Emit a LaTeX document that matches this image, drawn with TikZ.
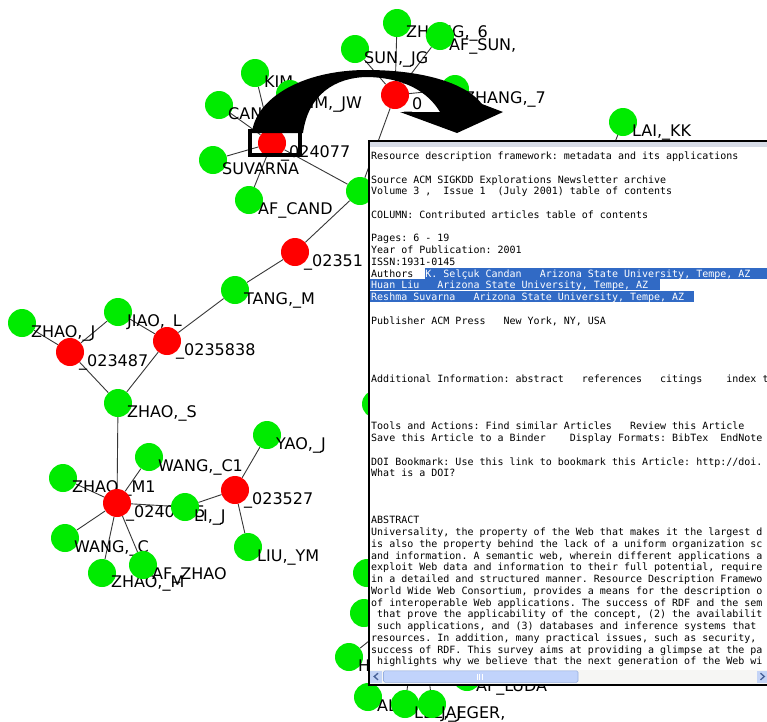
\documentclass[tikz,border=0pt]{standalone}
\usepackage{fontspec}
\newfontfamily\lblfont{DejaVu Sans}
\newfontfamily\pfont{DejaVu Sans Mono}
\frenchspacing
\pgfdeclarelayer{back}\pgfdeclarelayer{edges}
\pgfsetlayers{back,edges,main}
\definecolor{ngreen}{RGB}{0,235,0}
\definecolor{nred}{RGB}{255,0,0}
\definecolor{hl}{RGB}{49,106,197}
\definecolor{edgecol}{RGB}{55,55,55}
\definecolor{chrome}{RGB}{214,219,230}
\definecolor{sbtrack}{RGB}{246,246,244}
\definecolor{sbbtn}{RGB}{196,212,246}
\definecolor{sbthumb}{RGB}{193,211,251}
\definecolor{sbborder}{RGB}{150,175,225}
\definecolor{sbarrow}{RGB}{70,95,150}
\newcommand\gnd[4]{\node[#3] (#1) at (#2) {}; \node[lbl] at ([shift={(9,14.5)}]#1.center) {#4};}
\newcommand\pline[2]{\node[ptext] at (371,{159.5+11.75*#1}) {#2};}
\begin{document}
\begin{tikzpicture}[x=1pt,y=-1pt,
  gn/.style={circle,fill=ngreen,minimum size=28pt,inner sep=0pt},
  rn/.style={circle,fill=nred,minimum size=28pt,inner sep=0pt},
  lbl/.style={anchor=base west,inner sep=0pt,font=\lblfont\fontsize{16}{16}\selectfont},
  edge/.style={draw=edgecol,line width=0.9pt},
  ptext/.style={anchor=base west,inner sep=0pt,font=\pfont\fontsize{10}{11.75}\selectfont},
  wtext/.style={ptext,text=white},
]
\useasboundingbox (0,0) rectangle (767,721);
\begin{pgfonlayer}{back}
\fill[white] (0,0) rectangle (767,721);
\end{pgfonlayer}

% ---- graph nodes (drawn in order) ----
\gnd{zhang6}{397,23}{gn}{ZHANG,\_6}
\gnd{sunjg}{355,49}{gn}{SUN,\_JG}
\gnd{afsun}{440,36}{gn}{AF\_SUN,}
\gnd{zhang7}{455,89}{gn}{ZHANG,\_7}
\gnd{rtop}{395,95}{rn}{\_0}
\gnd{kim}{255,73}{gn}{KIM}
\gnd{kimjw}{290,94}{gn}{KIM,\_JW}
\gnd{cand}{219,105}{gn}{CAN}
\gnd{suvarna}{213,160}{gn}{SUVARNA}
\gnd{afcand}{249,200}{gn}{AF\_CAND}
\gnd{ra}{272,143}{rn}{\_024077}
\node[gn] (gmid) at (360,191) {};
\gnd{rb}{295,252}{rn}{\_02351}
\gnd{tang}{235,290}{gn}{TANG,\_M}
\gnd{jiao}{118,312}{gn}{JIAO,\_L}
\gnd{zhaoj}{22,323}{gn}{ZHAO,\_J}
\gnd{rc}{70,352}{rn}{\_023487}
\gnd{rd}{167,341}{rn}{\_0235838}
\gnd{zhaos}{118,403}{gn}{ZHAO,\_S}
\gnd{wangc1}{149,457}{gn}{WANG,\_C1}
\gnd{zhaom1}{63,478}{gn}{ZHAO,\_M1}
\gnd{wangc}{65,538}{gn}{WANG,\_C}
\gnd{zhaom}{102,573}{gn}{ZHAO,\_M}
\gnd{afzhao}{143,565}{gn}{AF\_ZHAO}
\gnd{re}{117,503}{rn}{\_0240085}
\gnd{lij}{185,507}{gn}{LI,\_J}
\gnd{rf}{235,490}{rn}{\_023527}
\gnd{yaoj}{267,435}{gn}{YAO,\_J}
\gnd{liuym}{248,547}{gn}{LIU,\_YM}
\gnd{lai}{623,122}{gn}{LAI,\_KK}
\node[gn] (gp1) at (376,404) {};
\node[gn] (gp2) at (367,573) {};
\node[gn] (gp3) at (364,613) {};
\gnd{gh}{349,657}{gn}{H}
\gnd{al}{368,697}{gn}{AL}
\gnd{lee}{405,704}{gn}{LEE,\_J}
\gnd{jaeger}{432,704}{gn}{JAEGER,}
\gnd{afluda}{467,677}{gn}{AF\_LUDA}
\coordinate (hubA) at (420,600);
\coordinate (hubB) at (560,280);

% ---- edges ----
\begin{pgfonlayer}{edges}
\foreach \n in {sunjg,zhang6,afsun,zhang7,gmid} \draw[edge] (rtop) -- (\n);
\foreach \n in {kim,kimjw,cand,suvarna,afcand,gmid} \draw[edge] (ra) -- (\n);
\draw[edge] (gmid) -- (rb);
\draw[edge] (rb) -- (tang);
\draw[edge] (tang) -- (rd);
\draw[edge] (rd) -- (jiao);
\draw[edge] (rd) -- (zhaos);
\draw[edge] (jiao) -- (rc);
\draw[edge] (zhaoj) -- (rc);
\draw[edge] (rc) -- (zhaos);
\draw[edge] (zhaos) -- (re);
\foreach \n in {wangc1,zhaom1,wangc,zhaom,afzhao,lij} \draw[edge] (re) -- (\n);
\draw[edge] (lij) -- (rf);
\draw[edge] (rf) -- (yaoj);
\draw[edge] (rf) -- (liuym);
\draw[edge] (lai) -- (hubB);
\foreach \n in {gp2,gp3,gh,al,lee,jaeger,afluda} \draw[edge] (hubA) -- (\n);
\end{pgfonlayer}

% ---- selection box and curved arrow ----
\node[draw=black,line width=4pt,minimum width=50pt,minimum height=24pt,inner sep=0pt] (sel) at (275,143) {};
\fill[black] (252,133) .. controls (255,100) and (300,70) .. (367,70)
  .. controls (420,70) and (465,82) .. (482,104)
  -- (503,112) -- (457,133) -- (400,112) -- (440,112)
  .. controls (428,92) and (405,78) .. (368,77)
  .. controls (335,77) and (308,95) .. (303,133) -- cycle;

% ---- info panel ----
\fill[white] (368,141) rectangle (767,685);
\begin{scope}
\clip (369,142) rectangle (767,684);
\fill[chrome] (369,142) rectangle (767,146.5);
\fill[hl] (425.2,{277-9.3}) rectangle (767,{277+1.6});
\fill[hl] (369.5,{288.75-9.3}) rectangle (660,{288.75+1.6});
\fill[hl] (369.5,{300.5-9.3}) rectangle (694,{300.5+1.6});
\pline{0}{Resource description framework: metadata and its applications}
\pline{2}{Source ACM SIGKDD Explorations Newsletter archive}
\pline{3}{Volume 3 ,~~Issue 1~~(July 2001) table of contents}
\pline{5}{COLUMN: Contributed articles table of contents}
\pline{7}{Pages: 6 - 19}
\pline{8}{Year of Publication: 2001}
\pline{9}{ISSN:1931-0145}
\pline{10}{Authors}
\node[wtext] at (425.2,{159.5+11.75*10}) {K. Selçuk Candan~~~Arizona State University, Tempe, AZ};
\node[wtext] at (371,{159.5+11.75*11}) {Huan Liu~~~Arizona State University, Tempe, AZ};
\node[wtext] at (371,{159.5+11.75*12}) {Reshma Suvarna~~~Arizona State University, Tempe, AZ};
\pline{14}{Publisher ACM Press~~~New York, NY, USA}
\pline{19}{Additional Information: abstract~~~references~~~citings~~~~index t}
\pline{23}{Tools and Actions: Find similar Articles~~~Review this Article}
\pline{24}{Save this Article to a Binder~~~~Display Formats: BibTex~~EndNote}
\pline{26}{DOI Bookmark: Use this link to bookmark this Article: http://doi.}
\pline{27}{What is a DOI?}
\pline{31}{ABSTRACT}
\pline{32}{Universality, the property of the Web that makes it the largest d}
\pline{33}{is also the property behind the lack of a uniform organization sc}
\pline{34}{and information. A semantic web, wherein different applications a}
\pline{35}{exploit Web data and information to their full potential, require}
\pline{36}{in a detailed and structured manner. Resource Description Framewo}
\pline{37}{World Wide Web Consortium, provides a means for the description o}
\pline{38}{of interoperable Web applications. The success of RDF and the sem}
\pline{39}{~that prove the applicability of the concept, (2) the availabilit}
\pline{40}{~such applications, and (3) databases and inference systems that}
\pline{41}{resources. In addition, many practical issues, such as security,}
\pline{42}{success of RDF. This survey aims at providing a glimpse at the pa}
\pline{43}{~highlights why we believe that the next generation of the Web wi}
% scrollbar
\fill[sbtrack] (369,670) rectangle (767,684);
\fill[sbbtn] (370,670.5) rectangle (382,682.5);
\draw[sbarrow,line width=1.3pt] (378,673.2) -- (374.2,676.5) -- (378,679.8);
\draw[fill=sbthumb,draw=sbborder,line width=0.6pt,rounded corners=1.5pt] (383.5,670.8) rectangle (578,682.3);
\foreach \gx in {477,479.5,482} \draw[white,line width=0.7pt] (\gx,673.5) -- (\gx,679.5);
\fill[sbbtn] (757,670.5) rectangle (767,682.5);
\draw[sbarrow,line width=1.3pt] (760.5,673.2) -- (764.3,676.5) -- (760.5,679.8);
\end{scope}
\draw[black,line width=1.6pt] (367.8,141) -- (767,141);
\draw[black,line width=2pt] (368.5,140.2) -- (368.5,685.5);
\draw[black,line width=2pt] (367.5,684.5) -- (767,684.5);
\end{tikzpicture}
\end{document}
